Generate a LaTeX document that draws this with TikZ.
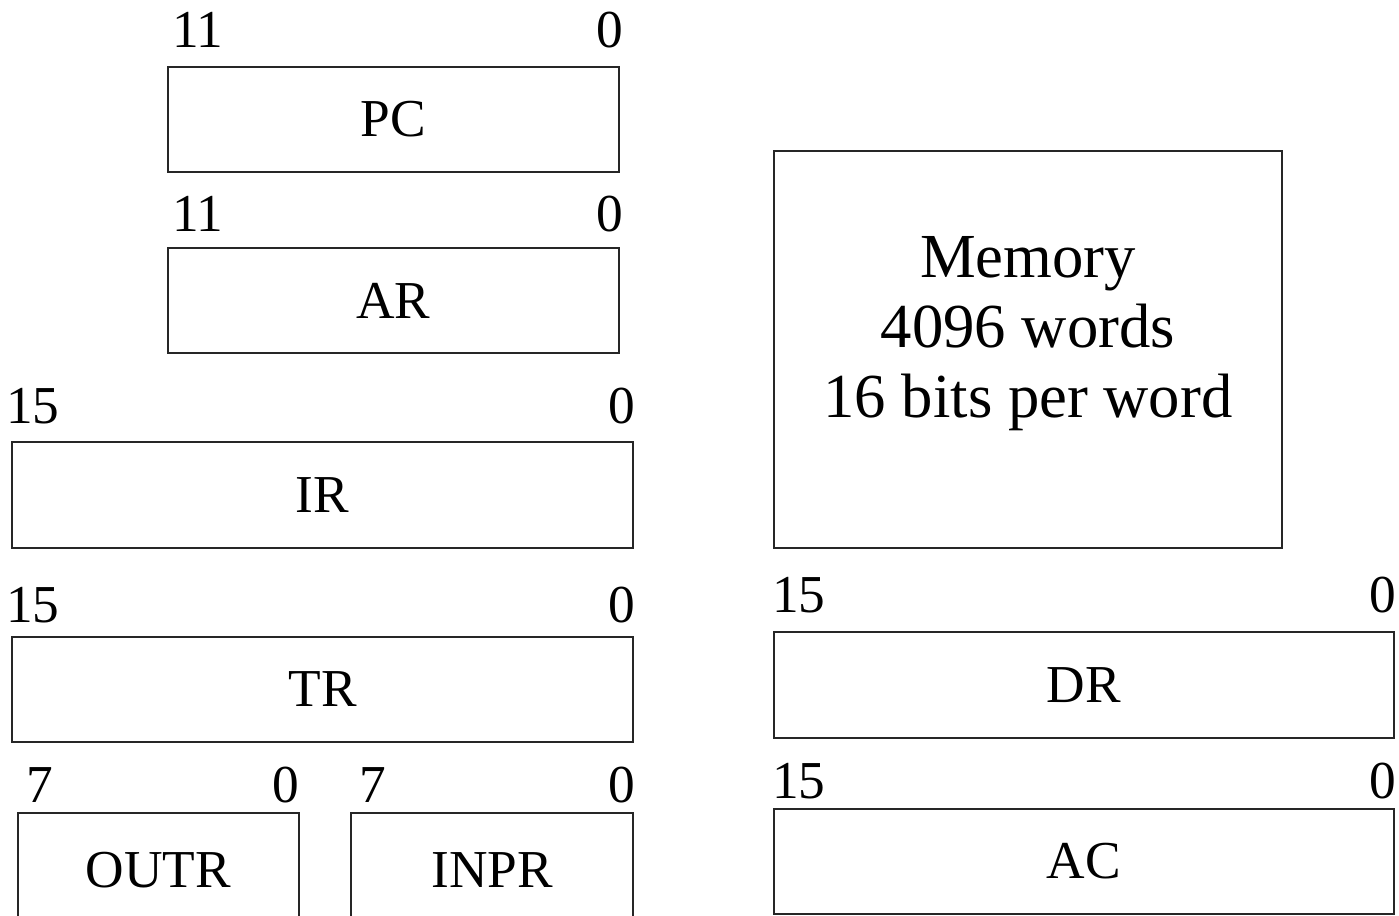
\documentclass[tikz,border=0pt]{standalone}
\usepackage{fontspec}
\setmainfont{Liberation Serif}
\begin{document}
\begin{tikzpicture}[x=0.75pt,y=-0.75pt,
  reg/.style={draw=black!85, line width=1.5pt, inner sep=0pt, anchor=north west,
    font=\fontsize{40}{48}\selectfont},
  bitl/.style={inner sep=0pt, anchor=base west, font=\fontsize{40}{48}\selectfont},
  bitr/.style={inner sep=0pt, anchor=base east, font=\fontsize{40}{48}\selectfont},
  memtxt/.style={inner sep=0pt, align=center, font=\fontsize{47}{52.5}\selectfont}]
\useasboundingbox (0,0) rectangle (1399,916);
\clip (0,0) rectangle (1399,916);
\fill[white] (0,0) rectangle (1399,916);
% registers
\node[reg, minimum width={451*0.75pt}, minimum height={105*0.75pt}] (pc) at (167,66) {PC};
\node[reg, minimum width={451*0.75pt}, minimum height={105*0.75pt}] (ar) at (167,247) {AR};
\node[reg, minimum width={621*0.75pt}, minimum height={106*0.75pt}] (ir) at (11,441) {IR};
\node[reg, minimum width={621*0.75pt}, minimum height={105*0.75pt}] (tr) at (11,636) {TR};
\node[reg, minimum width={281*0.75pt}, minimum height={114*0.75pt}] (outr) at (17,812) {OUTR};
\node[reg, minimum width={282*0.75pt}, minimum height={114*0.75pt}] (inpr) at (350,812) {INPR};
\node[reg, minimum width={508*0.75pt}, minimum height={397*0.75pt}] (mem) at (773,150) {};
\node[memtxt] (memt) at ([yshift=12pt]mem.center) {Memory\\4096 words\\16 bits per word};
\node[reg, minimum width={620*0.75pt}, minimum height={106*0.75pt}] (dr) at (773,631) {DR};
\node[reg, minimum width={620*0.75pt}, minimum height={105*0.75pt}] (ac) at (773,808) {AC};
% bit labels
\node[bitl] (pcl) at (172,48) {11};  \node[bitr] (pcr) at (623,48) {0};
\node[bitl] (arl) at (172,232) {11}; \node[bitr] (arr) at (623,232) {0};
\node[bitl] (irl) at (6,423) {15};   \node[bitr] (irr) at (635,423) {0};
\node[bitl] (trl) at (6,622) {15};   \node[bitr] (trr) at (635,622) {0};
\node[bitl] (outrl) at (26,802) {7}; \node[bitr] (outrr) at (299,802) {0};
\node[bitl] (inprl) at (359,802) {7};\node[bitr] (inprr) at (635,802) {0};
\node[bitl] (drl) at (772,612) {15}; \node[bitr] (drr) at (1396,612) {0};
\node[bitl] (acl) at (772,798) {15}; \node[bitr] (acr) at (1396,798) {0};
\end{tikzpicture}
\end{document}
